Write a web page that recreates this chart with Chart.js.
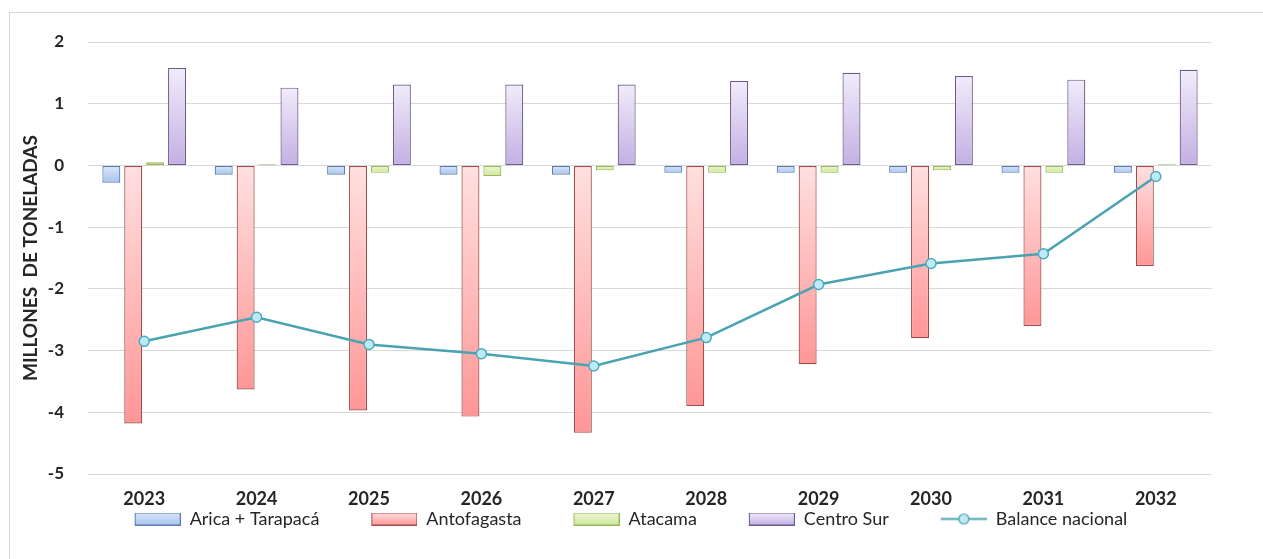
<!DOCTYPE html>
<html>
<head>
<meta charset="utf-8">
<script src="https://cdn.jsdelivr.net/npm/chart.js@4"></script>
<style>
  body { margin: 0; background: #fff; }
  #wrap { position: relative; width: 1263px; height: 559px; }
  #frame { position: absolute; left: 9px; top: 12px; width: 1300px; height: 600px;
           border-left: 1px solid #d9d9d9; border-top: 1px solid #d9d9d9; }
  canvas { position: absolute; left: 0; top: 0; }
</style>
</head>
<body>
<div id="wrap">
  <div id="frame"></div>
  <canvas id="chart"></canvas>
</div>
<script>
// data
var years = ['2023', '2024', '2025', '2026', '2027', '2028', '2029', '2030', '2031', '2032'];
var aricaTarapaca = [-0.28, -0.15, -0.15, -0.15, -0.15, -0.12, -0.12, -0.12, -0.12, -0.12];
var antofagasta = [-4.18, -3.63, -3.97, -4.07, -4.33, -3.90, -3.22, -2.80, -2.60, -1.63];
var atacama = [0.05, 0.02, -0.12, -0.17, -0.08, -0.12, -0.12, -0.08, -0.12, 0.02];
var centroSur = [1.58, 1.26, 1.31, 1.31, 1.31, 1.37, 1.50, 1.45, 1.39, 1.55];
var balance = [-2.85, -2.46, -2.90, -3.05, -3.25, -2.79, -1.93, -1.59, -1.43, -0.18];
var yTicks = [2, 1, 0, -1, -2, -3, -4, -5];

var txt = '#262626';
var font = 'Lato, "Open Sans", sans-serif';
var iconGap = 50;   // empty space left of each legend icon
var iconW = 46;

// light / dark gradient stops and border for each bar series
var styles = [
    {light: '#dbe7f9', dark: '#a8c3ec', border: '#5b7bb4'},
    {light: '#ffe0e0', dark: '#ff9696', border: '#a04c4c'},
    {light: '#f0f8d8', dark: '#cde79c', border: '#98b954'},
    {light: '#f1ecfa', dark: '#c3afe3', border: '#6d5a8c'}
];

function barFill(st) {
    return function(context) {
        var chart = context.chart;
        if (!chart.chartArea || context.parsed === undefined) return st.dark;
        var y = chart.scales.y;
        var p0 = y.getPixelForValue(0);
        var p1 = y.getPixelForValue(context.parsed.y);
        var top = Math.min(p0, p1), bot = Math.max(p0, p1);
        if (bot - top < 1) bot = top + 1;
        var g = chart.ctx.createLinearGradient(0, top, 0, bot);
        g.addColorStop(0, st.light);
        g.addColorStop(1, st.dark);
        return g;
    };
}

function boxIcon(st) {
    var c = document.createElement('canvas');
    c.width = iconGap + iconW; c.height = 13;
    var x = c.getContext('2d');
    var g = x.createLinearGradient(0, 0, 0, 13);
    g.addColorStop(0, st.light);
    g.addColorStop(1, st.dark);
    x.fillStyle = g;
    x.fillRect(iconGap + 1, 1, iconW - 2, 11);
    x.strokeStyle = st.border;
    x.lineWidth = 1;
    x.strokeRect(iconGap + 0.5, 0.5, iconW - 1, 12);
    return c;
}

function lineIcon() {
    var c = document.createElement('canvas');
    c.width = iconGap + iconW; c.height = 13;
    var x = c.getContext('2d');
    x.strokeStyle = '#4aa3b0';
    x.lineWidth = 2;
    x.beginPath(); x.moveTo(iconGap, 6.5); x.lineTo(iconGap + iconW, 6.5); x.stroke();
    x.beginPath(); x.arc(iconGap + iconW / 2, 6.5, 5, 0, Math.PI * 2);
    x.fillStyle = '#bfeaf4'; x.fill();
    x.lineWidth = 1.2; x.stroke();
    return c;
}

var names = ['Arica + Tarapacá', 'Antofagasta', 'Atacama', 'Centro Sur'];
var series = [aricaTarapaca, antofagasta, atacama, centroSur];
var datasets = [];
for (var i = 0; i < series.length; i++) {
    datasets.push({
        type: 'bar',
        label: names[i],
        data: series[i],
        backgroundColor: barFill(styles[i]),
        borderColor: styles[i].border,
        borderWidth: 1.2,
        borderSkipped: false,
        categoryPercentage: 0.78,
        barPercentage: 0.82,
        legendIcon: boxIcon(styles[i]),
        order: 1
    });
}
datasets.push({
    type: 'line',
    label: 'Balance nacional',
    data: balance,
    borderColor: '#4aa3b0',
    borderWidth: 2.5,
    pointRadius: 5,
    pointStyle: 'circle',
    pointBackgroundColor: '#bfeaf4',
    pointBorderColor: '#4aacc6',
    pointBorderWidth: 1.5,
    tension: 0,
    legendIcon: lineIcon(),
    order: 0
});

var chart = new Chart(document.getElementById('chart'), {
    data: { labels: years, datasets: datasets },
    options: {
        responsive: true,
        maintainAspectRatio: false,
        animation: false,
        layout: { padding: { top: 42, right: 51, bottom: 21, left: 0 } },
        plugins: {
            tooltip: { enabled: false },
            legend: {
                position: 'bottom',
                labels: {
                    usePointStyle: true,
                    pointStyleWidth: iconGap + iconW,
                    boxHeight: 13,
                    padding: 2,
                    color: txt,
                    font: { family: font, size: 18 },
                    generateLabels: function(ch) {
                        return ch.data.datasets.map(function(ds, idx) {
                            return {
                                text: ds.label,
                                pointStyle: ds.legendIcon,
                                datasetIndex: idx,
                                fontColor: txt,
                                lineWidth: 0,
                                hidden: false
                            };
                        });
                    }
                }
            }
        },
        scales: {
            x: {
                grid: { display: false },
                border: { display: false },
                ticks: { color: txt, padding: 6, font: { family: font, size: 18, weight: 'bold' } },
                afterFit: function(s) { s.height = 34; }
            },
            y: {
                min: -5,
                max: 2,
                afterBuildTicks: function(s) {
                    s.ticks = yTicks.map(function(v) { return {value: v}; });
                },
                grid: { color: '#d9d9d9', lineWidth: 1, drawTicks: false },
                border: { display: false },
                ticks: { color: txt, padding: 24, font: { family: font, size: 17, weight: 'bold' } },
                title: {
                    display: true,
                    text: 'MILLONES  DE TONELADAS',
                    color: txt,
                    padding: { top: 19, bottom: 0 },
                    font: { family: font, size: 19, weight: 'bold' }
                },
                afterFit: function(s) { s.width = 88; }
            }
        }
    }
});
</script>
</body>
</html>
